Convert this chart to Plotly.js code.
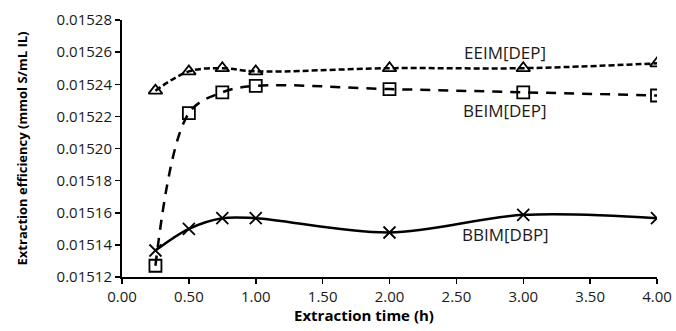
<!DOCTYPE html>
<html>
<head>
<meta charset="utf-8">
<script src="https://cdn.plot.ly/plotly-3.0.1.min.js"></script>
<style>html,body{margin:0;padding:0;background:#fff;}#chart{width:676px;height:331px;}</style>
</head>
<body>
<div id="chart"></div>
<script>
const timeH = [0.25, 0.5, 0.75, 1.0, 2.0, 3.0, 4.0];
const eeimDEP = [0.015236, 0.015248, 0.015250, 0.015248, 0.015250, 0.015250, 0.015253];
const beimDEP = [0.015127, 0.015222, 0.015235, 0.015239, 0.015237, 0.015235, 0.015233];
const bbimDBP = [0.0151365, 0.015150, 0.0151566, 0.0151566, 0.0151477, 0.0151587, 0.0151566];
const seriesNames = ["EEIM[DEP]", "BEIM[DEP]", "BBIM[DBP]"];
const labelX = [2.86, 2.86, 2.87];
const labelY = [0.015260, 0.0152239, 0.0151465];

const FONT = "Open Sans, Liberation Sans, sans-serif";
const traces = [
  {x: timeH, y: eeimDEP, name: seriesNames[0], mode: "lines+markers",
   line: {color: "#000", width: 2.5, dash: "6px,3px", shape: "spline", smoothing: 1},
   marker: {symbol: "triangle-up-open", size: 12, color: "#000", line: {width: 1.8, color: "#000"}}},
  {x: timeH, y: beimDEP, name: seriesNames[1], mode: "lines+markers",
   line: {color: "#000", width: 2.5, dash: "10px,8px", shape: "spline", smoothing: 1},
   marker: {symbol: "square-open", size: 12, color: "#000", line: {width: 1.8, color: "#000"}}},
  {x: timeH, y: bbimDBP, name: seriesNames[2], mode: "lines+markers",
   line: {color: "#000", width: 2.5, shape: "spline", smoothing: 1},
   marker: {symbol: "x-thin-open", size: 12, color: "#000", line: {width: 1.8, color: "#000"}}}
];

const annotations = seriesNames.map((n, i) => ({
  x: labelX[i], y: labelY[i], xref: "x", yref: "y", text: n, showarrow: false,
  font: {family: FONT, size: 17, color: "#1a1a1a"}
}));
annotations.push({
  x: 0.4527, y: -0.1465, xref: "paper", yref: "paper", text: "<b>Extraction time (h)</b>",
  showarrow: false, yanchor: "middle", xanchor: "center",
  font: {family: FONT, size: 15, color: "#000"}
});

const layout = {
  width: 676, height: 331,
  margin: {l: 122, r: 19, t: 20, b: 54},
  paper_bgcolor: "#fff", plot_bgcolor: "#fff",
  showlegend: false,
  font: {family: FONT, size: 15, color: "#1a1a1a"},
  xaxis: {
    range: [0, 4], dtick: 0.5, tick0: 0, tickformat: ".2f",
    showgrid: false, zeroline: false, showline: true, linecolor: "#000", linewidth: 2,
    ticks: "outside", ticklen: 5, tickwidth: 1.5, tickcolor: "#000",
    tickfont: {family: FONT, size: 15, color: "#1a1a1a"}
  },
  yaxis: {
    range: [0.01512, 0.01528], dtick: 0.00002, tick0: 0.01512, tickformat: ".5f",
    showgrid: false, zeroline: false, showline: true, linecolor: "#000", linewidth: 2,
    ticks: "outside", ticklen: 5, tickwidth: 1.5, tickcolor: "#000",
    tickfont: {family: FONT, size: 15, color: "#1a1a1a"},
    title: {text: "<b>Extraction efficiency (mmol S/mL IL)</b>", font: {family: FONT, size: 13, color: "#000"}, standoff: 26}
  },
  annotations: annotations
};

Plotly.newPlot("chart", traces, layout, {displayModeBar: false, staticPlot: true});
</script>
</body>
</html>
